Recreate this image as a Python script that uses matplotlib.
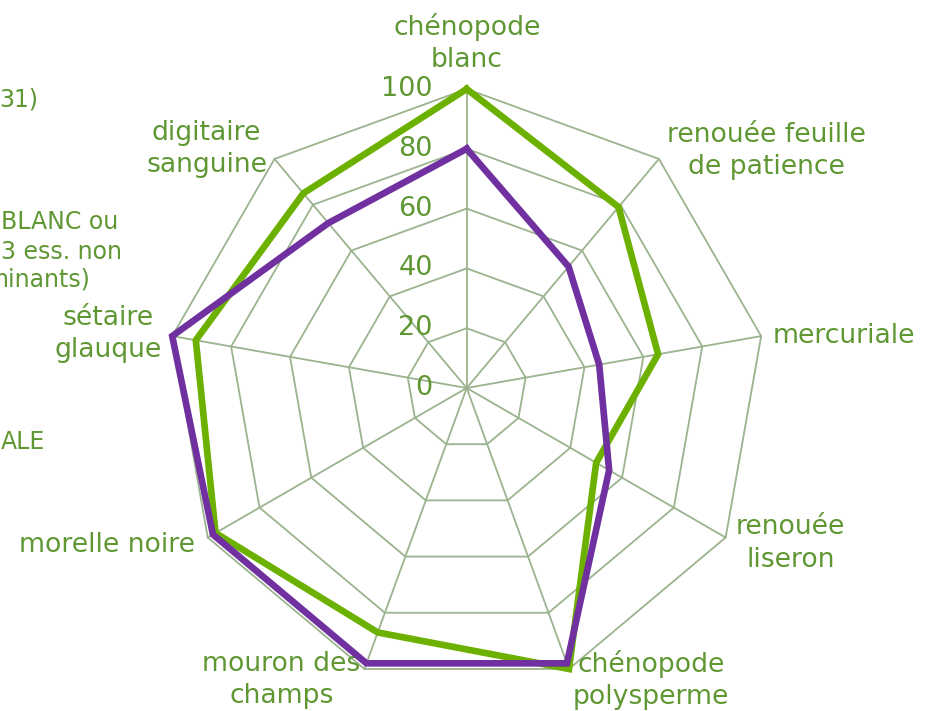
import numpy as np
import matplotlib
matplotlib.use('Agg')
import matplotlib.pyplot as plt

plt.rcParams['font.family'] = ['DejaVu Sans']

# categories, clockwise from the top
categories = ['chénopode\nblanc', 'renouée feuille\nde patience', 'mercuriale',
              'renouée\nliseron', 'chénopode\npolysperme', 'mouron des\nchamps',
              'morelle noire', 'sétaire\nglauque', 'digitaire\nsanguine']
serie_verte = [100, 79, 65, 50, 100, 87, 97, 92, 85]
serie_violette = [80, 53, 45, 55, 98, 98, 98, 100, 72]
tick_levels = [0, 20, 40, 60, 80, 100]

# legend fragments cut off on the left edge
legend_bits = ['31)', 'BLANC ou', '3 ess. non', 'minants)', 'ALE']

TXT = '#5F9733'
GRID = '#9BB38F'
GREEN = '#6CB000'
PURPLE = '#7030A0'

W, H = 930, 711
cx, cy = 466.7, 388.0
s = 299 / 100.0  # pixels per unit

fig = plt.figure(figsize=(W / 100, H / 100), dpi=100)
ax = fig.add_axes([0, 0, 1, 1])
ax.set_xlim(-cx / s, (W - cx) / s)
ax.set_ylim(-(H - cy) / s, cy / s)
ax.axis('off')

n = len(categories)
ang = np.arange(n) * 2 * np.pi / n


def xy(vals):
    v = np.asarray(vals, dtype=float)
    a = np.append(ang, ang[0])
    v = np.append(v, v[0])
    return v * np.sin(a), v * np.cos(a)


# polygon grid + spokes
for lvl in tick_levels[1:]:
    gx, gy = xy([lvl] * n)
    ax.plot(gx, gy, color=GRID, lw=1.3, zorder=1)
for a in ang:
    ax.plot([0, 100 * np.sin(a)], [0, 100 * np.cos(a)], color=GRID, lw=1.3, zorder=1)

# series
gx, gy = xy(serie_verte)
ax.plot(gx, gy, color=GREEN, lw=4.8, zorder=3, solid_joinstyle='miter')
px, py = xy(serie_violette)
ax.plot(px, py, color=PURPLE, lw=4.8, zorder=4, solid_joinstyle='miter')

# radial tick labels
for lvl in tick_levels:
    ax.text(-34 / s, lvl, str(lvl), ha='right', va='center', fontsize=19.5, color=TXT)

# category labels: offsets (pixels) from the 100 vertex to text centre
offsets = [(0, 46), (108, 8), (83, 0), (65, -6), (82, -11),
           (-83, -11), (-101, -7), (-64, 2), (-68, 10)]
for lab, a, (dx, dy) in zip(categories, ang, offsets):
    ax.text(100 * np.sin(a) + dx / s, 100 * np.cos(a) + dy / s, lab,
            ha='center', va='center', fontsize=19.2, color=TXT,
            linespacing=1.32, multialignment='center')

# clipped legend text on the left
leg_pos = [(38, 100), (118, 222), (122, 252), (91, 280), (45, 442)]
for t, (rx, ry) in zip(legend_bits, leg_pos):
    fig.text(rx / W, 1 - ry / H, t, ha='right', va='center', fontsize=17, color=TXT)

fig.savefig('out.png', dpi=100)
